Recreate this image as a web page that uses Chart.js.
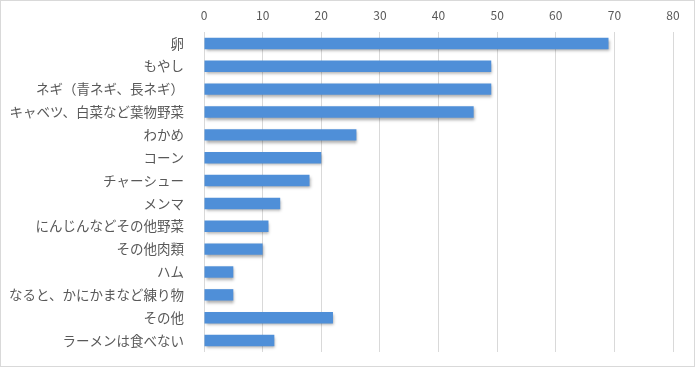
<!DOCTYPE html>
<html><head><meta charset="utf-8">
<script src="https://cdn.jsdelivr.net/npm/chart.js@4"></script>
<style>html,body{margin:0;padding:0;background:#fff;}canvas{display:block;}</style>
</head><body>
<canvas id="c" width="695" height="367"></canvas>
<script>
const categories = ["卵","もやし","ネギ（青ネギ、長ネギ）","キャベツ、白菜など葉物野菜","わかめ","コーン","チャーシュー","メンマ","にんじんなどその他野菜","その他肉類","ハム","なると、かにかまなど練り物","その他","ラーメンは食べない"];
const values = [69,49,49,46,26,20,18,13,11,10,5,5,22,12];
const xTicks = [0,10,20,30,40,50,60,70,80];

const borderPlugin = {
  id:'border',
  afterDraw(chart){
    const ctx = chart.ctx;
    ctx.save();
    ctx.strokeStyle = '#d9d9d9';
    ctx.lineWidth = 1;
    ctx.strokeRect(0.5,0.5,chart.width-1,chart.height-1);
    ctx.restore();
  }
};
const shadowPlugin = {
  id:'shadow',
  beforeDatasetsDraw(chart){
    const ctx = chart.ctx;
    ctx.save();
    ctx.shadowColor = 'rgba(0,0,0,0.35)';
    ctx.shadowBlur = 3;
    ctx.shadowOffsetX = 1;
    ctx.shadowOffsetY = 2;
  },
  afterDatasetsDraw(chart){ chart.ctx.restore(); }
};

function grad(context){
  const el = context.element;
  const chart = context.chart;
  if(!el || el.y === undefined) return '#4f8fd8';
  const h = el.height || 11;
  const g = chart.ctx.createLinearGradient(0, el.y - h/2, 0, el.y + h/2);
  g.addColorStop(0,'#6aa6e4');
  g.addColorStop(0.5,'#4a8ad6');
  g.addColorStop(1,'#3d7cc6');
  return g;
}

new Chart(document.getElementById('c'),{
  type:'bar',
  data:{labels:categories,datasets:[{data:values,backgroundColor:grad,borderWidth:0,barPercentage:0.5,categoryPercentage:1}]},
  options:{
    indexAxis:'y',
    responsive:false,
    animation:false,
    devicePixelRatio:1,
    layout:{padding:{left:0,right:22,top:0,bottom:15}},
    plugins:{legend:{display:false},tooltip:{enabled:false}},
    scales:{
      x:{
        position:'top',min:0,max:80,
        afterBuildTicks(s){ s.ticks = xTicks.map(v=>({value:v})); },
        afterFit(s){ s.height = 32; },
        grid:{color:'#d9d9d9',drawTicks:false,lineWidth:1},
        border:{display:false},
        ticks:{color:'#595959',font:{family:'"Noto Sans CJK JP", sans-serif',size:12},padding:9}
      },
      y:{
        afterFit(s){ s.width = 204; s.paddingTop = 0; s.paddingBottom = 0; },
        grid:{display:false},
        border:{display:false},
        ticks:{color:'#595959',font:{family:'"Noto Sans CJK JP", sans-serif',size:13.5},padding:12,autoSkip:false}
      }
    }
  },
  plugins:[shadowPlugin,borderPlugin]
});
</script>
</body></html>
